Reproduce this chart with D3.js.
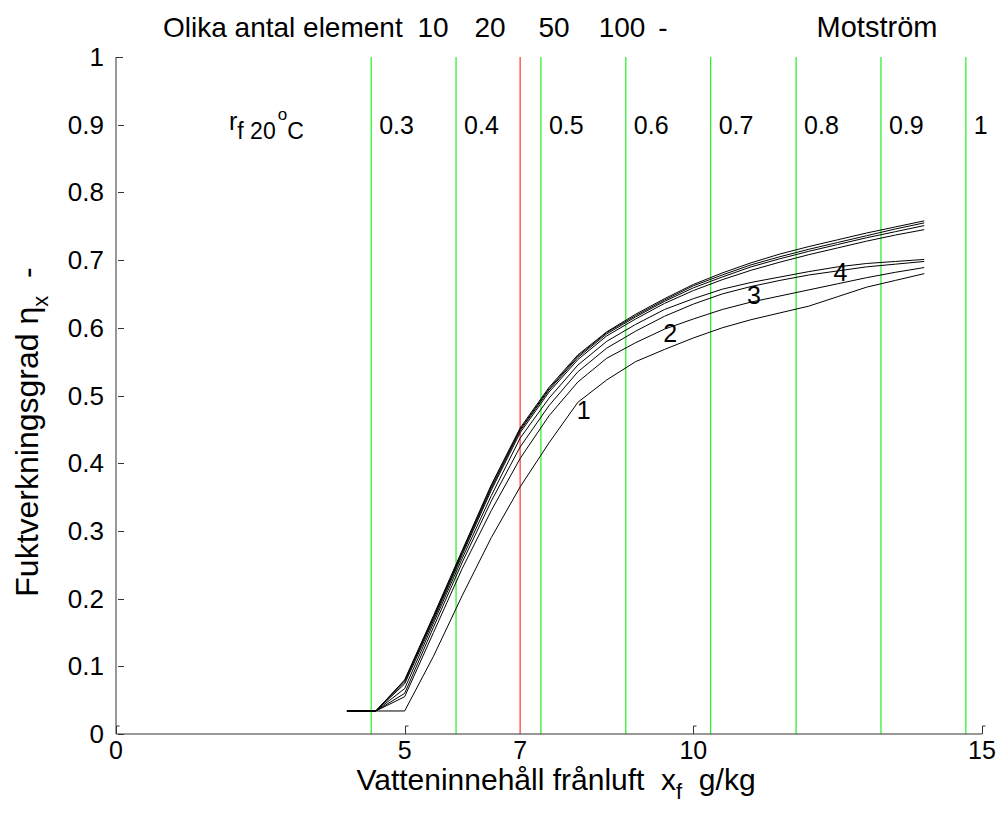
<!DOCTYPE html>
<html>
<head>
<meta charset="utf-8">
<script src="https://cdn.jsdelivr.net/npm/d3@7/dist/d3.min.js"></script>
<style>
  body { margin: 0; background: #fff; }
  svg { font-family: "Liberation Sans", Arial, sans-serif; }
  text { white-space: pre; }
  .curve { fill: none; stroke: #000; stroke-width: 1; }
</style>
</head>
<body>
<div id="chart"></div>
<script>
// x-values where curves are sampled (g/kg)
var xs = [4, 4.5, 5, 5.5, 6, 6.5, 7, 7.5, 8, 8.5, 9, 9.5, 10, 10.5, 11, 11.5, 12, 12.5, 13, 13.5, 14];

// efficiency per number of elements
var eta1   = [0.034,0.034,0.034,0.115,0.205,0.290,0.365,0.430,0.490,0.523,0.550,0.568,0.585,0.600,0.612,0.622,0.632,0.646,0.660,0.670,0.680];
var eta2   = [0.034,0.034,0.055,0.150,0.245,0.330,0.407,0.470,0.520,0.555,0.578,0.598,0.613,0.627,0.638,0.647,0.656,0.665,0.674,0.682,0.689];
var eta3   = [0.034,0.034,0.060,0.158,0.254,0.344,0.424,0.485,0.535,0.570,0.595,0.617,0.635,0.650,0.661,0.670,0.678,0.684,0.690,0.694,0.698];
var eta4   = [0.034,0.034,0.067,0.164,0.260,0.352,0.437,0.496,0.545,0.580,0.605,0.627,0.643,0.657,0.667,0.675,0.683,0.690,0.695,0.698,0.701];
var eta10  = [0.034,0.034,0.074,0.168,0.265,0.360,0.445,0.505,0.553,0.588,0.613,0.636,0.655,0.671,0.685,0.697,0.708,0.718,0.728,0.737,0.745];
var eta20  = [0.034,0.034,0.077,0.171,0.268,0.363,0.448,0.508,0.556,0.591,0.616,0.639,0.659,0.675,0.690,0.702,0.713,0.723,0.733,0.742,0.751];
var eta50  = [0.034,0.034,0.079,0.173,0.270,0.366,0.450,0.510,0.558,0.593,0.618,0.641,0.662,0.678,0.693,0.705,0.716,0.726,0.736,0.746,0.755];
var eta100 = [0.034,0.034,0.080,0.175,0.272,0.368,0.452,0.512,0.560,0.594,0.620,0.643,0.664,0.681,0.696,0.709,0.720,0.730,0.740,0.749,0.758];

// relative humidity lines (rf at 20 C) and their x positions
var rfLabels = ["0.3", "0.4", "0.5", "0.6", "0.7", "0.8", "0.9", "1"];
var rfX      = [4.42, 5.89, 7.36, 8.83, 10.30, 11.78, 13.25, 14.72];
var redX = 7;

// curve labels: text, x, eta
var curveLabels = ["1", "2", "3", "4"];
var curveLabelX = [8.1, 9.6, 11.05, 12.55];
var curveLabelY = [0.478, 0.592, 0.648, 0.682];

// title row: element counts
var titleNums = ["10", "20", "50", "100", "-"];
var titleNumPx = [433, 490, 554, 622, 663];

var xTicks = [0, 5, 7, 10, 15];
var xTickMarks = [0, 5, 10, 15];
var yTicks = [0, 0.1, 0.2, 0.3, 0.4, 0.5, 0.6, 0.7, 0.8, 0.9, 1];

var width = 1003, height = 824;

var x = d3.scaleLinear().domain([0, 15]).range([116, 982]);
var y = d3.scaleLinear().domain([0, 1]).range([734, 57]);

var svg = d3.select("#chart").append("svg")
  .attr("width", width)
  .attr("height", height);

// rf lines
svg.selectAll("line.rf")
  .data(rfX)
  .enter().append("line")
  .attr("class", "rf")
  .attr("x1", function (d) { return x(d); })
  .attr("x2", function (d) { return x(d); })
  .attr("y1", y(1))
  .attr("y2", y(0))
  .attr("stroke", "#22ee22")
  .attr("stroke-width", 1.2);

svg.append("line")
  .attr("x1", x(redX)).attr("x2", x(redX))
  .attr("y1", y(1)).attr("y2", y(0))
  .attr("stroke", "#ff3333")
  .attr("stroke-width", 1.2);

svg.selectAll("text.rf")
  .data(rfLabels)
  .enter().append("text")
  .attr("class", "rf")
  .attr("x", function (d, i) { return x(rfX[i]) + 8; })
  .attr("y", y(0.9) + 9)
  .attr("font-size", 25)
  .text(function (d) { return d; });

// r_f 20°C label
var rt = svg.append("text")
  .attr("x", 229)
  .attr("y", y(0.9) + 5)
  .attr("font-size", 25);
rt.append("tspan").text("r");
rt.append("tspan").attr("font-size", 23).attr("dy", 9).text("f 20");
rt.append("tspan").attr("font-size", 17).attr("dy", -19).attr("dx", 2).text("o");
rt.append("tspan").attr("font-size", 23).attr("dy", 19).text("C");

// curves
var line = d3.line()
  .x(function (d, i) { return x(xs[i]); })
  .y(function (d) { return y(d); });

var curves = [eta1, eta2, eta3, eta4, eta10, eta20, eta50, eta100];
svg.selectAll("path.curve")
  .data(curves)
  .enter().append("path")
  .attr("class", "curve")
  .attr("d", line);

svg.selectAll("text.cl")
  .data(curveLabels)
  .enter().append("text")
  .attr("class", "cl")
  .attr("x", function (d, i) { return x(curveLabelX[i]); })
  .attr("y", function (d, i) { return y(curveLabelY[i]) + 9; })
  .attr("text-anchor", "middle")
  .attr("font-size", 25)
  .text(function (d) { return d; });

// axes (drawn by hand, matlab-like: no box)
var axisColor = "#333";
svg.append("line")
  .attr("x1", x(0)).attr("x2", x(0))
  .attr("y1", y(1)).attr("y2", y(0))
  .attr("stroke", axisColor);
svg.append("line")
  .attr("x1", x(0)).attr("x2", x(15))
  .attr("y1", y(0)).attr("y2", y(0))
  .attr("stroke", axisColor);

svg.selectAll("path.ytick")
  .data(yTicks)
  .enter().append("path")
  .attr("class", "ytick")
  .attr("fill", "none")
  .attr("stroke", axisColor)
  .attr("d", function (d) {
    var yy = Math.round(y(d)) + 0.5;
    if (d === 1) return "M" + x(0) + "," + yy + "h7";
    return "M" + (x(0) + 2) + "," + yy + "h6";
  });

svg.selectAll("path.xtick")
  .data(xTickMarks)
  .enter().append("path")
  .attr("class", "xtick")
  .attr("fill", "none")
  .attr("stroke", axisColor)
  .attr("d", function (d) {
    var xx = Math.round(x(d)) + 0.5;
    return "M" + xx + "," + y(0) + "V" + (y(0) - 8) + "h3";
  });

svg.selectAll("text.ytl")
  .data(yTicks)
  .enter().append("text")
  .attr("class", "ytl")
  .attr("x", x(0) - 12)
  .attr("y", function (d) { return y(d) + 9; })
  .attr("text-anchor", "end")
  .attr("font-size", 26)
  .text(function (d) { return d; });

svg.selectAll("text.xtl")
  .data(xTicks)
  .enter().append("text")
  .attr("class", "xtl")
  .attr("x", function (d) { return x(d); })
  .attr("y", 759)
  .attr("text-anchor", "middle")
  .attr("font-size", 25)
  .text(function (d) { return d; });

// axis titles
var xl = svg.append("text")
  .attr("x", 556)
  .attr("y", 790)
  .attr("text-anchor", "middle")
  .attr("font-size", 30);
xl.append("tspan").text("Vatteninnehåll frånluft  x");
xl.append("tspan").attr("font-size", 22).attr("dy", 9).text("f");
xl.append("tspan").attr("dy", -9).text("  g/kg");

var yl = svg.append("text")
  .attr("transform", "translate(38,432) rotate(-90)")
  .attr("text-anchor", "middle")
  .attr("font-size", 32);
yl.append("tspan").text("Fuktverkningsgrad η");
yl.append("tspan").attr("font-size", 22).attr("dy", 10).text("x");
yl.append("tspan").attr("dy", -10).text("  -");

// top title row
svg.append("text")
  .attr("x", 163)
  .attr("y", 37)
  .attr("font-size", 28)
  .text("Olika antal element");

svg.selectAll("text.tn")
  .data(titleNums)
  .enter().append("text")
  .attr("class", "tn")
  .attr("x", function (d, i) { return titleNumPx[i]; })
  .attr("y", 37)
  .attr("text-anchor", "middle")
  .attr("font-size", 28)
  .text(function (d) { return d; });

svg.append("text")
  .attr("x", 877)
  .attr("y", 37)
  .attr("text-anchor", "middle")
  .attr("font-size", 29)
  .text("Motström");
</script>
</body>
</html>
